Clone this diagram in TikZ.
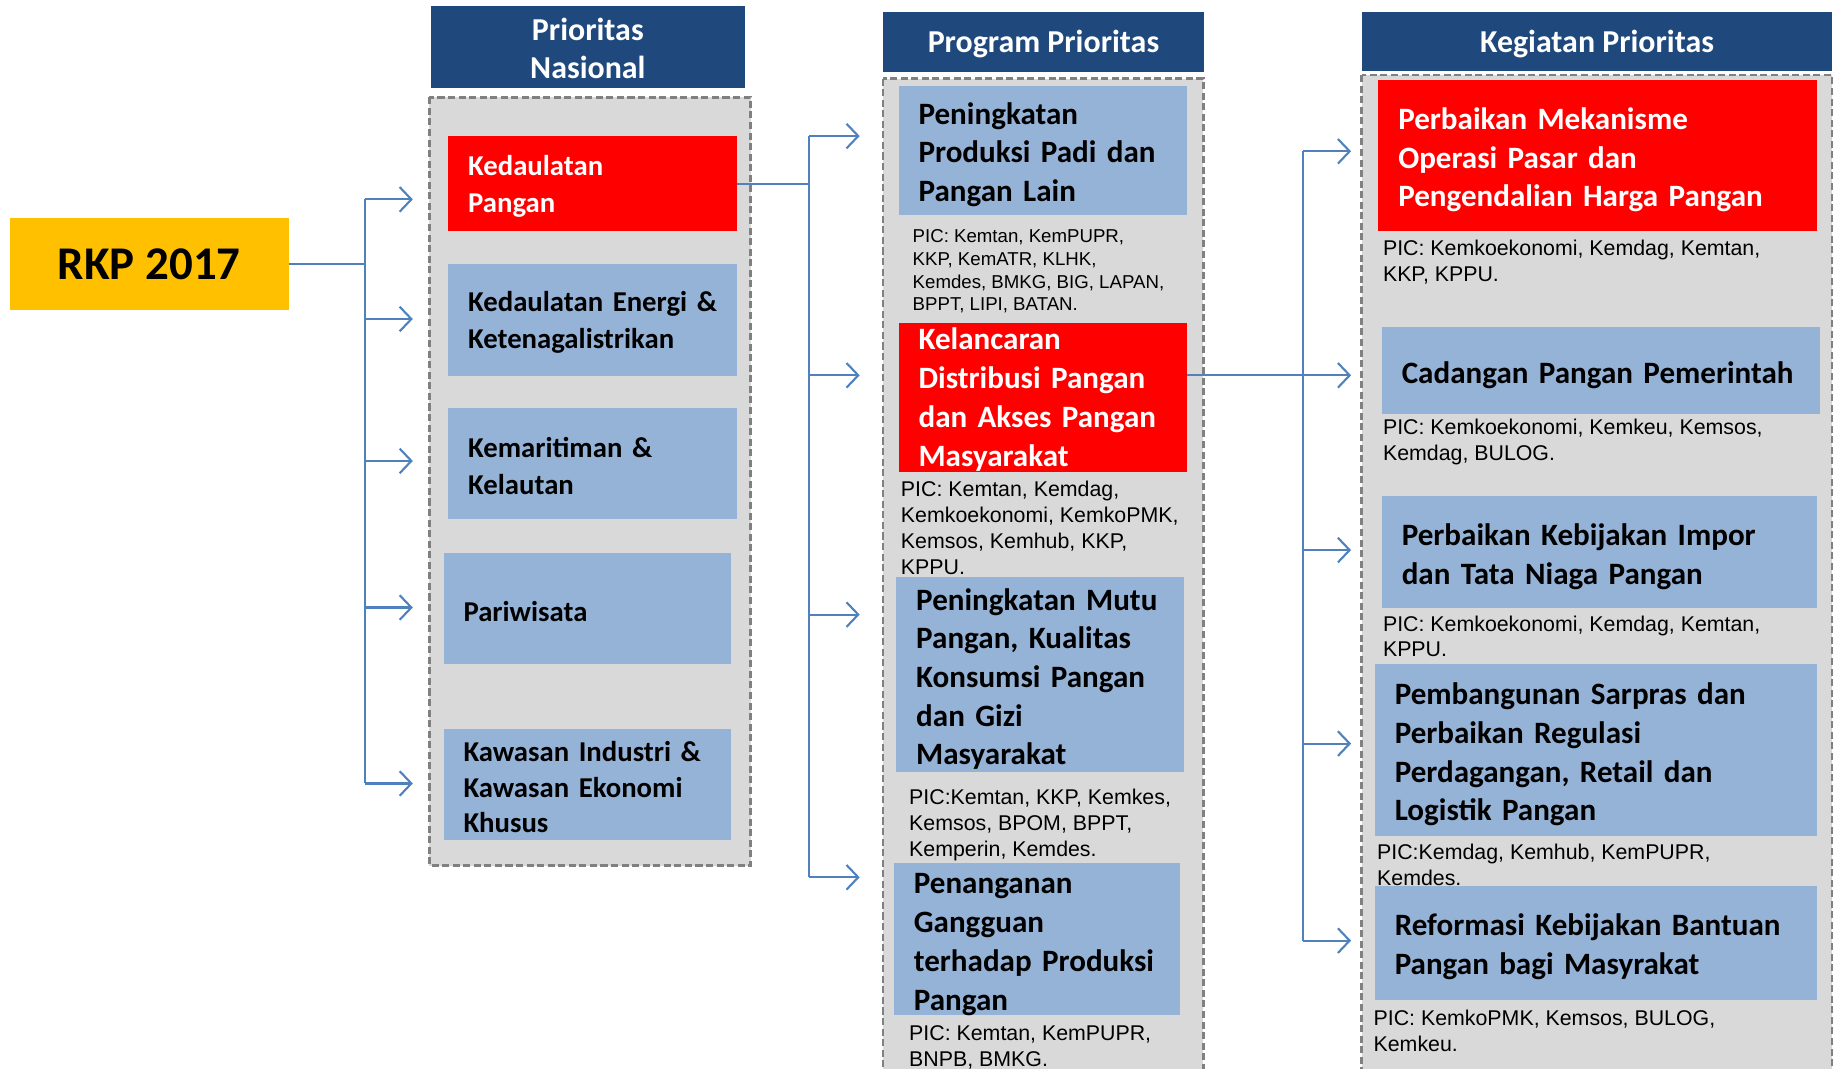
\documentclass[tikz,border=0pt]{standalone}
\usepackage{fontspec}
\setmainfont{Carlito}
\newfontfamily\picfamily{Liberation Sans}
\usetikzlibrary{arrows.meta,calc}

\definecolor{rkpgold}{HTML}{FFC000}
\definecolor{hdrblue}{HTML}{1F497D}
\definecolor{boxblue}{HTML}{95B3D7}
\definecolor{boxred}{HTML}{FF0000}
\definecolor{colgrey}{HTML}{D9D9D9}
\definecolor{dashgrey}{HTML}{808080}
\definecolor{linkblue}{HTML}{4F81BD}

\newcommand{\boxfont}{\fontsize{26.5}{33}\selectfont\bfseries\hyphenpenalty=10000 }
\newcommand{\hdrfont}{\fontsize{27.2}{32}\selectfont\bfseries}
\newcommand{\pnfont}{\fontsize{24.5}{31.5}\selectfont\bfseries\hyphenpenalty=10000 }
\newcommand{\picfont}{\picfamily\fontsize{18.2}{22}\selectfont}
\newcommand{\picsmall}{\picfamily\fontsize{15.9}{19.4}\selectfont}

\tikzset{
  hdr/.style 2 args={fill=hdrblue, text=white, font=\hdrfont, align=center,
    inner sep=0pt, anchor=north west, minimum width=#1pt, minimum height=#2pt},
  col/.style={fill=colgrey, draw=dashgrey, line width=2.2pt, dash pattern=on 6pt off 3pt},
  blk/.style 2 args={anchor=north west, inner xsep=17pt, inner ysep=0pt,
    minimum width=#1pt, minimum height=#2pt, text width=#1pt-34pt, align=left},
  boxtxt/.style={font=\boxfont, text height=26pt},
  pntxt/.style={font=\pnfont, text height=22pt},
  redblk/.style={fill=boxred, text=white},
  blueblk/.style={fill=boxblue, text=black},
  pic/.style={anchor=west, inner sep=0pt, align=left, font=\picfont},
  link/.style={draw=linkblue, line width=1.8pt},
  arr/.style={link, -{Straight Barb[length=10pt,width=21pt]}},
}

\begin{document}
\begin{tikzpicture}[x=1pt, y=-1pt]
\useasboundingbox (0,0) rectangle (1568,911);

% RKP
\node[fill=rkpgold, minimum width=238pt, minimum height=78pt, anchor=north west,
  font=\fontsize{40}{48}\selectfont\bfseries] (rkp) at (8,186) {RKP 2017};

% Prioritas Nasional
\node[hdr={268}{70}] (hpn) at (367,5) {\rule{0pt}{21pt}Prioritas\\Nasional};
\filldraw[col] (366,83) rectangle (640,738);
\node[blk={246}{81}, redblk, pntxt] (pn1) at (382,116) {Kedaulatan\\Pangan};
\node[blk={246}{95}, blueblk, pntxt] (pn2) at (382,225) {Kedaulatan~Energi~\&\\Ketenagalistrikan};
\node[blk={246}{94}, blueblk, pntxt] (pn3) at (382,348) {Kemaritiman~\&\\Kelautan};
\node[blk={245}{95}, blueblk, pntxt] (pn4) at (378,471) {Pariwisata};
\node[blk={245}{95}, blueblk, pntxt, font=\fontsize{24.5}{30}\selectfont\bfseries] (pn5) at (378,621) {Kawasan~Industri~\&\\Kawasan~Ekonomi\\Khusus};

% Program Prioritas
\node[hdr={273}{51}] (hpp) at (753,10) {\rule{0pt}{23pt}Program Prioritas};
\filldraw[col] (753,67) rectangle (1026,925);
\node[blk={246}{110}, blueblk, boxtxt] (pp1) at (766,73) {Peningkatan\\Produksi~Padi~dan\\Pangan~Lain};
\node[pic, font=\picsmall] (pic11) at (778,231.5) {PIC: Kemtan, KemPUPR,\\KKP, KemATR, KLHK,\\Kemdes, BMKG, BIG, LAPAN,\\BPPT, LIPI, BATAN.};
\node[blk={246}{127}, redblk, boxtxt, text height=22.5pt] (pp2) at (766,275) {Kelancaran\\Distribusi~Pangan\\dan~Akses~Pangan\\Masyarakat};
\node[pic] (pic12) at (768,450) {PIC: Kemtan, Kemdag,\\Kemkoekonomi, KemkoPMK,\\Kemsos, Kemhub, KKP,\\KPPU.};
\node[blk={245}{166}, blueblk, boxtxt] (pp3) at (764,492) {Peningkatan~Mutu\\Pangan,~Kualitas\\Konsumsi~Pangan\\dan~Gizi\\Masyarakat};
\node[pic] (pic13) at (775,703.5) {PIC:Kemtan, KKP, Kemkes,\\Kemsos, BPOM, BPPT,\\Kemperin, Kemdes.};
\node[blk={244}{127}, blueblk, boxtxt] (pp4) at (762,736) {Penanganan\\Gangguan\\terhadap~Produksi\\Pangan};
\node[pic] (pic14) at (775,893) {PIC: Kemtan, KemPUPR,\\BNPB, BMKG.};

% Kegiatan Prioritas
\node[hdr={401}{50}] (hkp) at (1161,10) {\rule{0pt}{23pt}Kegiatan Prioritas};
\filldraw[col] (1161,64) rectangle (1562,925);
\node[blk={374}{129}, redblk, boxtxt] (kp1) at (1175,68) {Perbaikan~Mekanisme\\Operasi~Pasar~dan\\Pengendalian~Harga~Pangan};
\node[pic] (pic21) at (1179,223.5) {PIC: Kemkoekonomi, Kemdag, Kemtan,\\KKP, KPPU.};
\node[blk={374}{74}, blueblk, boxtxt] (kp2) at (1178,279) {Cadangan~Pangan~Pemerintah};
\node[pic] (pic22) at (1179,377) {PIC: Kemkoekonomi, Kemkeu, Kemsos,\\Kemdag, BULOG.};
\node[blk={371}{95}, blueblk, boxtxt] (kp3) at (1178,423) {Perbaikan~Kebijakan~Impor\\dan~Tata~Niaga~Pangan};
\node[pic] (pic23) at (1179,542.5) {PIC: Kemkoekonomi, Kemdag, Kemtan,\\KPPU.};
\node[blk={377}{147}, blueblk, boxtxt] (kp4) at (1172,566) {Pembangunan~Sarpras~dan\\Perbaikan~Regulasi\\Perdagangan,~Retail~dan\\Logistik~Pangan};
\node[pic] (pic24) at (1174,737.5) {PIC:Kemdag, Kemhub, KemPUPR,\\Kemdes.};
\node[blk={377}{97}, blueblk, boxtxt] (kp5) at (1172,755) {Reformasi~Kebijakan~Bantuan\\Pangan~bagi~Masyrakat};
\node[pic] (pic25) at (1171,879) {PIC: KemkoPMK, Kemsos, BULOG,\\Kemkeu.};

% arrow ends
\coordinate (bus1) at (311,0);
\coordinate (bus2) at (690,0);
\coordinate (bus3) at (1111,0);
\coordinate (pn1in) at (352,170);
\coordinate (pn2in) at (352,272);
\coordinate (pn3in) at (352,393);
\coordinate (pn4in) at (352,518);
\coordinate (pn5in) at (352,668);
\coordinate (pp1in) at (733,116);
\coordinate (pp2in) at (733,320);
\coordinate (pp3in) at (733,524);
\coordinate (pp4in) at (733,748);
\coordinate (kp1in) at (1152,129);
\coordinate (kp2in) at (1152,320);
\coordinate (kp3in) at (1152,469);
\coordinate (kp4in) at (1152,634);
\coordinate (kp5in) at (1152,802);

% RKP -> Prioritas Nasional
\draw[link] (rkp.east) -- (rkp.east -| bus1);
\draw[link] (bus1 |- pn1in) -- (bus1 |- pn5in);
\foreach \t in {pn1in,pn2in,pn3in,pn4in,pn5in}
  \draw[arr] (bus1 |- \t) -- (\t);

% Kedaulatan Pangan -> Program Prioritas
\draw[link] (pn1.east) -- (pn1.east -| bus2);
\draw[link] (bus2 |- pp1in) -- (bus2 |- pp4in);
\foreach \t in {pp1in,pp2in,pp3in,pp4in}
  \draw[arr] (bus2 |- \t) -- (\t);

% Kelancaran -> Kegiatan Prioritas
\draw[arr] (pp2.east |- kp2in) -- (kp2in);
\draw[link] (bus3 |- kp1in) -- (bus3 |- kp5in);
\foreach \t in {kp1in,kp3in,kp4in,kp5in}
  \draw[arr] (bus3 |- \t) -- (\t);
\end{tikzpicture}
\end{document}
